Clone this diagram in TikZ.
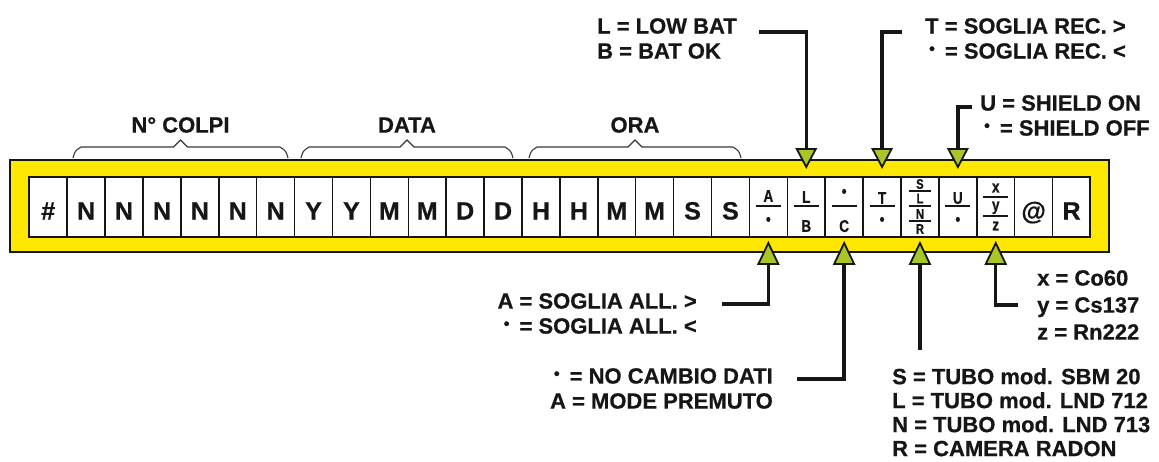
\documentclass[tikz,border=0pt]{standalone}
\usepackage{fontspec}
\setmainfont{Liberation Sans}[BoldFeatures={FakeBold=0.6}]
\usetikzlibrary{calc,positioning}
\definecolor{panelyellow}{RGB}{255,232,0}
\definecolor{markgreen}{RGB}{168,198,38}
\definecolor{inkblack}{RGB}{22,22,22}
\newcommand{\updot}{\makebox[0.62em]{\raisebox{0.2em}{\scalebox{0.75}{\textbullet}}}}
\newcommand{\narrow}[1]{\scalebox{0.8}[1]{#1}}

\begin{document}
\begin{tikzpicture}[x=1pt,y=-1pt,
  cell/.style={draw=inkblack,line width=1.5pt,minimum width=37.9pt,minimum height=60pt,inner sep=0pt,
    font=\fontsize{25}{25}\selectfont\bfseries,text height=25pt,text depth=0pt,text=inkblack},
  mini/.style={inner sep=0pt,text depth=0pt,text=inkblack,font=\fontsize{17}{17}\selectfont\bfseries},
  minis/.style={mini,font=\fontsize{14}{14}\selectfont\bfseries},
  rule/.style={draw=inkblack,line width=1.3pt},
  lead/.style={draw=inkblack,line width=3.4pt},
  marker/.style={fill=markgreen,draw=inkblack,line width=1.8pt,line join=miter},
  note/.style={inner sep=0pt,text=inkblack,font=\fontsize{22}{25}\selectfont\bfseries},
  grouplabel/.style={inner sep=0pt,text=inkblack,font=\fontsize{22}{22}\selectfont\bfseries},
  brace/.style={draw=inkblack!85,line width=1.1pt}]
\fill[white] (0,0) rectangle (1159,461);
\useasboundingbox (0,0) rectangle (1159,461);

% frame and strip
\draw[line width=2pt,draw=inkblack,fill=panelyellow] (10,160) rectangle (1109,252);
\draw[line width=1.8pt,draw=inkblack,fill=white] (29.3,177) rectangle (1090,237);
\foreach \t [count=\i from 0] in {\#,N,N,N,N,N,N,Y,Y,M,M,D,D,H,H,M,M,S,S,{},{},{},{},{},{},{},@,R}
  \node[cell] (c\i) at ({29.3+(\i+0.5)*37.9},207) {\t};

% two-level cells
\foreach \i/\u/\d/\uy/\dy in {19/A/\textbullet/196/221,20/L/B/197/226,21/\textbullet/C/193/226,22/T/\textbullet/198/221,24/U/\textbullet/198/221} {
  \node[mini] (u\i) at ($(c\i)+(0,\uy-207)$) {\narrow{\u}};
  \draw[rule] ($(c\i)+(-12.5,-1)$) -- ++(25,0);
  \node[mini] (d\i) at ($(c\i)+(0,\dy-207)$) {\narrow{\d}};
}
% tube cell
\foreach \t/\y [count=\k] in {S/184,L/198.5,N/214,R/229}
  \node[minis] (s\k) at ($(c23)+(0,\y-207)$) {\narrow{\t}};
\foreach \y in {191,206,221}
  \draw[rule] ($(c23)+(-11,\y-207)$) -- ++(22,0);
% isotope cell
\foreach \t/\y [count=\k] in {x/188,y/206,z/226}
  \node[mini] (x\k) at ($(c25)+(0,\y-207)$) {\narrow{\t}};
\foreach \y in {197,216}
  \draw[rule] ($(c25)+(-12.5,\y-207)$) -- ++(25,0);

% braces over the groups
\foreach \a/\b/\l/\n in {73/288/N° COLPI/colpi,301/513/DATA/data,529/741/ORA/ora} {
  \pgfmathsetmacro\bmid{(\a+\b)/2}
  \node[grouplabel] (\n) at (\bmid,125) {\l};
  \draw[brace] (\a,158) .. controls (\a+2,151) .. (\a+8,147) -- (\bmid-7,147) -- (\bmid,140)
    -- (\bmid+7,147) -- (\b-8,147) .. controls (\b-2,151) .. (\b,158);
}

% legends
\node[note,anchor=north west,align=left] (lowbat) at (597,18) {L = LOW BAT\\B = BAT OK};
\node[note,anchor=north west,align=left] (recth) at (925,18) {T = SOGLIA REC. >\\\updot{} = SOGLIA REC. <};
\node[note,anchor=north west,align=left] (shield) at (980,95) {U = SHIELD ON\\\updot{} = SHIELD OFF};
\node[note,anchor=north east,align=right] (sogall) at (697,293) {A = SOGLIA ALL. >\\\updot{} = SOGLIA ALL. <};
\node[note,anchor=north east,align=right] (cambio) at (773,368) {\updot{} = NO CAMBIO DATI\\A = MODE PREMUTO};
\node[note,anchor=north west,align=left,font=\fontsize{22}{24}\selectfont\bfseries] (tubo) at (892,368)
  {S = TUBO mod. SBM 20\\L = TUBO mod. LND 712\\N = TUBO mod. LND 713\\R = CAMERA RADON};
\node[note,anchor=north west,align=left,font=\fontsize{22}{27}\selectfont\bfseries] (isot) at (1037,270)
  {x = Co60\\y = Cs137\\z = Rn222};

% pointer bases
\foreach \i in {20,22,24} \coordinate (tb\i) at ($(c\i)+(0,-58)$);
\foreach \i in {19,21,23,25} \coordinate (bb\i) at ($(c\i)+(0,57)$);

% leaders
\draw[lead] ([xshift=22pt,yshift=-14pt]lowbat.north east) -| (tb20);
\draw[lead] ([xshift=-23pt,yshift=-14pt]recth.north west) -| (tb22);
\draw[lead] ([xshift=-8pt,yshift=-12pt]shield.north west) -| (tb24);
\draw[lead] ([xshift=25pt,yshift=-11pt]sogall.north east) -| (bb19);
\draw[lead] ([xshift=24pt,yshift=-11pt]cambio.north east) -| (bb21);
\draw[lead] ($(tubo.north -| bb23)+(0,-18)$) -- (bb23);
\draw[lead] ([xshift=-19pt]isot.west) -| (bb25);

% pointers
\foreach \i in {20,22,24}
  \filldraw[marker] (tb\i) ++(-9.5,0) -- ++(19,0) -- ++(-9.5,18) -- cycle;
\foreach \i in {19,21,23,25}
  \filldraw[marker] (bb\i) ++(-10,0) -- ++(20,0) -- ++(-10,-21) -- cycle;
\end{tikzpicture}
\end{document}
